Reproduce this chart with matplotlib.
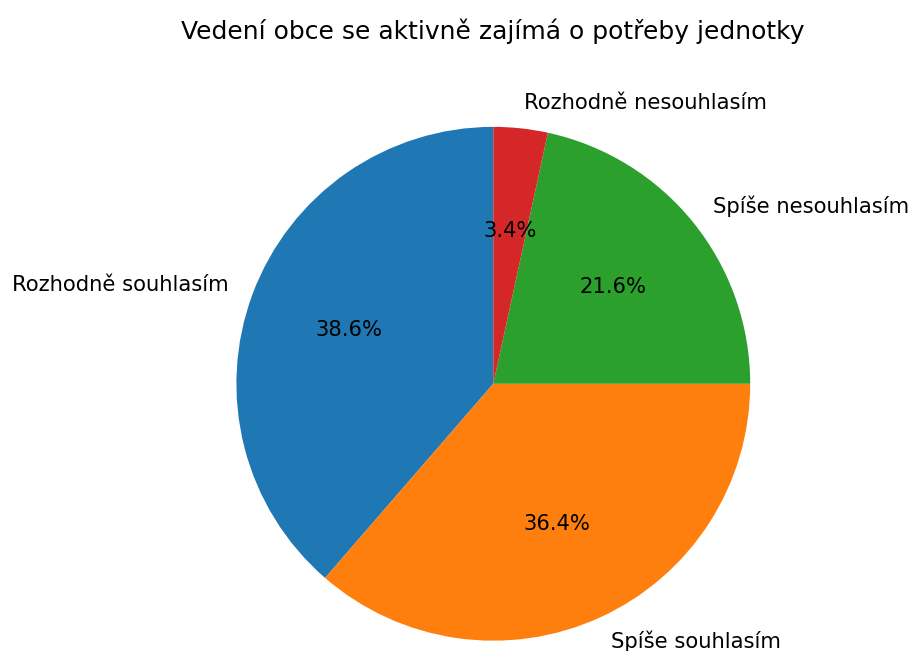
import matplotlib
matplotlib.use("Agg")
import matplotlib.pyplot as plt

#answers to the question, counts of respondents
labels = ['Rozhodně souhlasím', 'Spíše souhlasím', 'Spíše nesouhlasím', 'Rozhodně nesouhlasím']
counts = [34, 32, 19, 3]
title = 'Vedení obce se aktivně zajímá o potřeby jednotky'

fig = plt.figure(figsize=(9.11, 6.51), dpi=100)
ax = fig.add_axes([0.189, -0.083, 0.705, 0.987])

ax.pie(counts, labels=labels, autopct='%1.1f%%', startangle=90,
       textprops={'fontsize': 15.2})
ax.set_aspect('equal')

fig.text(0.541, 0.952, title, ha='center', va='center', fontsize=18)

fig.savefig('out.png', dpi=100)
